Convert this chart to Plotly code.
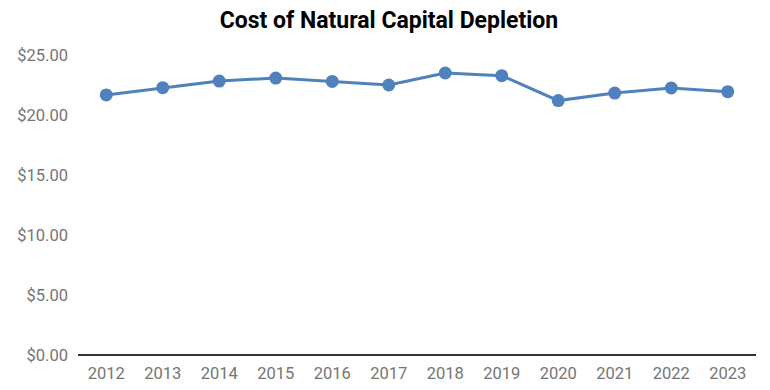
import plotly.graph_objects as go

years = ["2012", "2013", "2014", "2015", "2016", "2017", "2018", "2019", "2020", "2021", "2022", "2023"]
cost = [21.67, 22.28, 22.83, 23.08, 22.8, 22.5, 23.5, 23.28, 21.2, 21.83, 22.25, 21.94]
y_ticks = [0, 5, 10, 15, 20, 25]
y_tick_labels = ["$0.00", "$5.00", "$10.00", "$15.00", "$20.00", "$25.00"]

fig = go.Figure(go.Scatter(
    x=years, y=cost, mode="lines+markers",
    line=dict(color="#4f81bd", width=3),
    marker=dict(color="#4f81bd", size=13),
    hoverinfo="x+y",
))

fig.update_layout(
    width=762, height=382,
    margin=dict(l=70, r=14, t=47, b=35),
    paper_bgcolor="white", plot_bgcolor="white",
    font=dict(family="Roboto", size=16.5, color="#757575"),
    title=dict(text="<b>Cost of Natural Capital Depletion</b>", x=0.5, xanchor="center",
               y=0.969, yanchor="middle", font=dict(family="Roboto", size=23, color="#000000")),
    showlegend=False,
)
fig.update_xaxes(type="category", range=[-0.5, 11.5], showgrid=False, showline=False,
                 ticks="", zeroline=False, ticklabelstandoff=6, automargin=False)
fig.update_yaxes(range=[0, 25], tickvals=y_ticks, ticktext=y_tick_labels, showgrid=False,
                 zeroline=True, zerolinecolor="#333333", zerolinewidth=1.5, showline=False, ticks="",
                 ticklabelstandoff=9, automargin=False)

fig.write_html("out.html")
